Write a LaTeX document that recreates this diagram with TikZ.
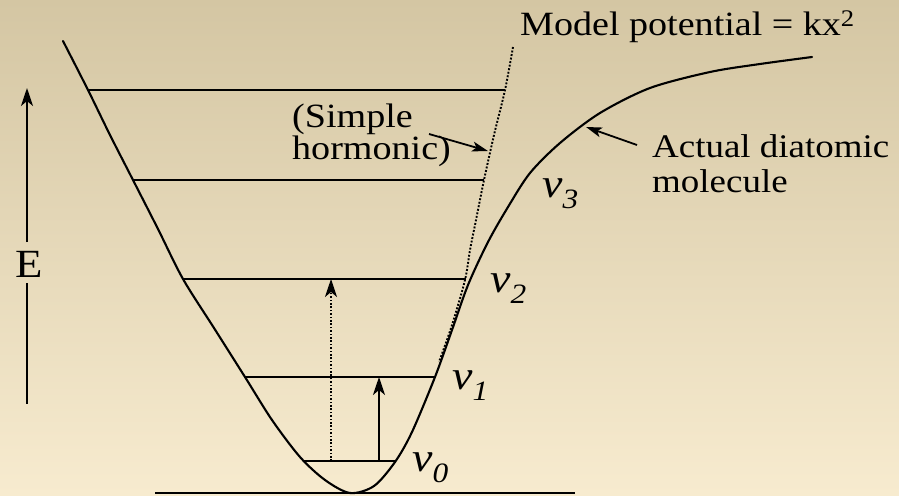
\documentclass[tikz,border=0pt]{standalone}
\usepackage{fontspec}
\setmainfont[FakeStretch=1.12]{Liberation Serif}
\usetikzlibrary{arrows.meta}
\definecolor{bgtop}{HTML}{D4C6A3}
\definecolor{bgmid}{HTML}{EFE9D6}
\definecolor{bgbot}{HTML}{F7EBCF}
\newcommand{\vlabel}[1]{{\fontsize{41}{41}\selectfont\itshape v\raisebox{-11pt}{\fontsize{28}{28}\selectfont #1}}}
\begin{document}
\begin{tikzpicture}[x=1pt,y=-1pt,
  curve/.style={line width=2.1pt, line join=round, line cap=round},
  levelline/.style={line width=2.1pt},
  dotline/.style={line width=1.9pt, dash pattern=on 1.9pt off 1.7pt},
  tipped/.style={-{Stealth[length=18pt,width=12pt,inset=5pt]}},
  smalltip/.style={-{Stealth[length=16pt,width=10pt,inset=4pt]}},
  lbl/.style={inner sep=0pt, anchor=base west, align=left},
  vlab/.style={inner sep=0pt, anchor=base west}
]
\useasboundingbox (0,0) rectangle (899,495);
\shade[top color=bgtop, middle color=bgmid, bottom color=bgbot] (0,0) rectangle (899,495);

% actual potential curve
\draw[curve] plot[smooth, tension=0.5] coordinates {(63,41) (88,90) (110,135) (133,180) (158,229) (183,279) (214,328) (245,377) (272,420) (300,457) (325,480) (350,493) (374,486) (395,462) (412,432) (435,377) (452,330) (468,285) (488,242) (508,207) (530,173) (560,143) (600,113) (650,88) (710,72) (760,64) (812,57)};

% model (harmonic) potential, dotted
\draw[dotline] plot[smooth, tension=0.5] coordinates {(513,47) (505,90) (494,135) (484,180) (476,220) (470,250) (465,280) (452,325) (439,362)};

% baseline
\coordinate (B1) at (155,493);
\coordinate (B2) at (575,493);
\draw[levelline] (B1) -- (B2);

% energy levels
\coordinate (L4a) at (88,90);   \coordinate (L4b) at (505,90);
\coordinate (L3a) at (133,180); \coordinate (L3b) at (484,180);
\coordinate (L2a) at (184,279); \coordinate (L2b) at (466,279);
\coordinate (L1a) at (245,377); \coordinate (L1b) at (435,377);
\coordinate (L0a) at (303,461); \coordinate (L0b) at (396,461);
\draw[levelline] (L4a) -- (L4b);
\draw[levelline] (L3a) -- (L3b);
\draw[levelline] (L2a) -- (L2b);
\draw[levelline] (L1a) -- (L1b);
\draw[levelline] (L0a) -- (L0b);

% transitions
\coordinate (T1s) at (379,461); \coordinate (T1e) at (379,377);
\coordinate (T2s) at (331,461); \coordinate (T2e) at (331,279);
\draw[levelline, tipped] (T1s) -- (T1e);
\draw[line width=1.7pt, dash pattern=on 1.7pt off 1.7pt, tipped] (T2s) -- (T2e);

% energy axis
\node[font=\fontsize{40}{40}\selectfont, inner sep=0pt] (E) at (29,264) {E};
\coordinate (Eb) at (27,242); \coordinate (Et) at (27,88);
\coordinate (Ec) at (27,283); \coordinate (Ed) at (27,404);
\draw[levelline, tipped] (Eb) -- (Et);
\draw[levelline] (Ec) -- (Ed);

% labels
\node[lbl, font=\fontsize{34}{34}\selectfont] (model) at (520,36) {Model potential = kx\textsuperscript{2}};
\node[lbl, font=\fontsize{34}{29}\selectfont] (simple) at (292,159) {(Simple\\hormonic)};
\node[lbl, font=\fontsize{33}{35}\selectfont] (actual) at (652,192) {Actual diatomic\\molecule};

\coordinate (SAs) at (429,134); \coordinate (SAe) at (488,151);
\draw[line width=1.8pt, smalltip] (SAs) -- (SAe);
\coordinate (AAs) at (637,145); \coordinate (AAe) at (586,127);
\draw[line width=1.8pt, smalltip] (AAs) -- (AAe);

\node[vlab] (v3) at (542,197) {\vlabel{3}};
\node[vlab] (v2) at (490,292) {\vlabel{2}};
\node[vlab] (v1) at (452,389) {\vlabel{1}};
\node[vlab] (v0) at (412,471) {\vlabel{0}};
\end{tikzpicture}
\end{document}
